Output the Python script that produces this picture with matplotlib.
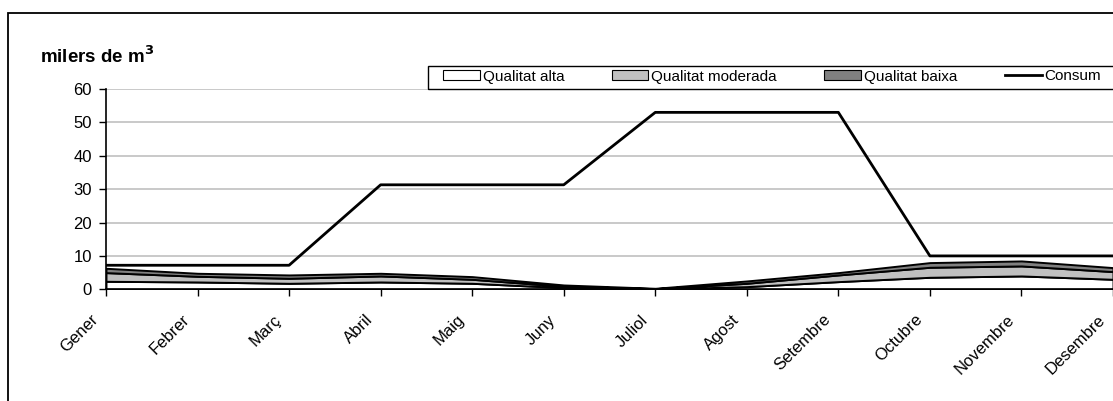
import matplotlib
matplotlib.use("Agg")
import matplotlib.pyplot as plt
import matplotlib.transforms as mtransforms
from matplotlib.patches import Rectangle, Patch
from matplotlib.lines import Line2D

plt.rcParams['font.family'] = ['Liberation Sans', 'DejaVu Sans']

# Monthly volumes, thousands of m3
mesos = ["Gener", "Febrer", "Març", "Abril", "Maig", "Juny", "Juliol",
         "Agost", "Setembre", "Octubre", "Novembre", "Desembre"]
alta = [2.4, 2.2, 1.8, 2.2, 1.8, 0.5, 0.1, 0.8, 2.3, 3.6, 4.0, 3.0]
moderada = [2.6, 1.7, 1.5, 1.8, 1.2, 0.4, 0.1, 1.0, 2.0, 3.0, 3.0, 2.3]
baixa = [1.3, 0.9, 1.0, 0.8, 0.8, 0.4, 0.1, 0.7, 0.7, 1.4, 1.5, 1.2]
consum = [7.2, 7.2, 7.2, 31.3, 31.3, 31.3, 53.0, 53.0, 53.0, 10.0, 10.0, 10.0]

W, H = 1113, 401
fig = plt.figure(figsize=(W / 100, H / 100), dpi=100)

# outer chart frame (runs off the right and bottom edges)
fig.patches.append(Rectangle((7.5 / W, -0.5), 2, 0.5 + 1 - 12.5 / H,
                             transform=fig.transFigure, fill=False,
                             edgecolor="black", linewidth=1.3))

left = 106 / W
xmax = 11.2
width = (1113 - 106) / W * xmax / 11
bottom = 1 - 289.3 / H
top = 1 - 89 / H
ax = fig.add_axes([left, bottom, width, top - bottom])

x = list(range(len(mesos)))
s1 = alta
s2 = [a + b for a, b in zip(alta, moderada)]
s3 = [a + b for a, b in zip(s2, baixa)]

ax.fill_between(x, 0, s1, facecolor="white", edgecolor="black", linewidth=1.4, zorder=2)
ax.fill_between(x, s1, s2, facecolor="#c0c0c0", edgecolor="black", linewidth=1.4, zorder=2)
ax.fill_between(x, s2, s3, facecolor="#808080", edgecolor="black", linewidth=1.4, zorder=2)
ax.plot(x, consum, color="black", linewidth=2.0, zorder=3)

ax.set_xlim(0, xmax)
ax.set_ylim(0, 60)
ax.set_yticks(range(0, 61, 10))
ax.set_xticks(x)
ax.set_xticklabels([])
ax.tick_params(axis="both", labelsize=12, length=5, width=1, color="black", direction="out")
ax.tick_params(axis="y", pad=5)

# month names, rotated and hung below-left of each tick
offset = mtransforms.ScaledTranslation(-10 / 100, -28 / 100, fig.dpi_scale_trans)
for i, name in zip(x, mesos):
    ax.text(i, 0, name, transform=ax.get_xaxis_transform() + offset,
            rotation=45, ha="right", va="center", rotation_mode="anchor",
            fontsize=12, clip_on=False)

ax.yaxis.grid(True, color="#c0c0c0", linewidth=1.2)
ax.set_axisbelow(True)
for side in ["top", "right"]:
    ax.spines[side].set_visible(False)
for side in ["left", "bottom"]:
    ax.spines[side].set_linewidth(1.2)
    ax.spines[side].set_zorder(4)

fig.text(40 / W, 1 - 63 / H, "milers de m$^\\mathbf{3}$", fontsize=13.5, fontweight="bold",
         ha="left", va="baseline")

# legend box, open on the right like the chart frame
fig.patches.append(Rectangle((427.5 / W, 1 - 88.5 / H), 2, 23 / H,
                             transform=fig.transFigure, fill=False,
                             edgecolor="black", linewidth=1.0))
handles = [Patch(facecolor="white", edgecolor="black", linewidth=0.8),
           Patch(facecolor="#c0c0c0", edgecolor="black", linewidth=0.8),
           Patch(facecolor="#808080", edgecolor="black", linewidth=0.8),
           Line2D([], [], color="black", linewidth=2.0)]
labels = ["Qualitat alta", "Qualitat moderada", "Qualitat baixa", "Consum"]
fig.legend(handles, labels, loc="center left", bbox_to_anchor=(443 / W, 1 - 76.5 / H),
           ncol=4, fontsize=11, frameon=False,
           handlelength=2.4, handleheight=0.6, columnspacing=3.1, handletextpad=0.2,
           borderpad=0, borderaxespad=0)

fig.savefig("out.png", dpi=100)
